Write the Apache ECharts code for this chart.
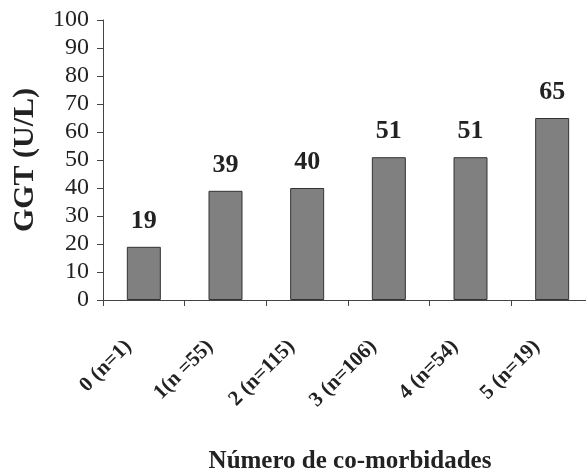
<!DOCTYPE html>
<html>
<head>
<meta charset="utf-8">
<script src="https://cdn.jsdelivr.net/npm/echarts@6/dist/echarts.min.js"></script>
<style>
html, body { margin: 0; padding: 0; background: #fff; }
#chart { width: 586px; height: 473px; }
</style>
</head>
<body>
<div id="chart"></div>
<script>
const categories = ['0 (n=1)', '1(n =55)', '2 (n=115)', '3 (n=106)', '4 (n=54)', '5 (n=19)']
const ggtValues = [19, 39, 40, 51, 51, 65]
const yTicks = [0, 10, 20, 30, 40, 50, 60, 70, 80, 90, 100]

const serif = '"Liberation Serif", "Times New Roman", serif'
const chart = echarts.init(document.getElementById('chart'))

const option = {
  animation: false,
  backgroundColor: '#fff',
  title: {
    text: 'Número de co-morbidades',
    left: 345,
    top: 444,
    textAlign: 'center',
    textStyle: { fontFamily: serif, fontWeight: 'bold', fontSize: 25, color: '#222' }
  },
  grid: { left: 103, top: 20, width: 490, height: 280, outerBoundsMode: 'none', containLabel: false },
  xAxis: {
    type: 'category',
    data: categories,
    axisLine: { lineStyle: { color: '#444', width: 1 } },
    axisTick: { show: true, length: 6, lineStyle: { color: '#444' } },
    axisLabel: {
      rotate: 45,
      margin: 28,
      padding: [0, 22, 0, 0],
      fontFamily: serif,
      fontWeight: 'bold',
      fontSize: 21,
      color: '#222'
    }
  },
  yAxis: {
    type: 'value',
    min: yTicks[0],
    max: yTicks[yTicks.length - 1],
    interval: 10,
    name: 'GGT (U/L)',
    nameLocation: 'middle',
    nameGap: 63,
    nameTextStyle: { fontFamily: serif, fontWeight: 'bold', fontSize: 30, color: '#222' },
    axisLine: { show: true, lineStyle: { color: '#444', width: 1 } },
    axisTick: { show: true, length: 6, lineStyle: { color: '#444' } },
    splitLine: { show: false },
    axisLabel: { margin: 14, fontFamily: serif, fontSize: 24, color: '#222' }
  },
  series: [
    {
      type: 'bar',
      data: ggtValues,
      barWidth: 34,
      itemStyle: { color: '#808080', borderColor: '#333', borderWidth: 1 },
      label: {
        show: true,
        position: 'top',
        distance: 13,
        fontFamily: serif,
        fontWeight: 'bold',
        fontSize: 26,
        color: '#222'
      }
    }
  ]
}
chart.setOption(option)
</script>
</body>
</html>
